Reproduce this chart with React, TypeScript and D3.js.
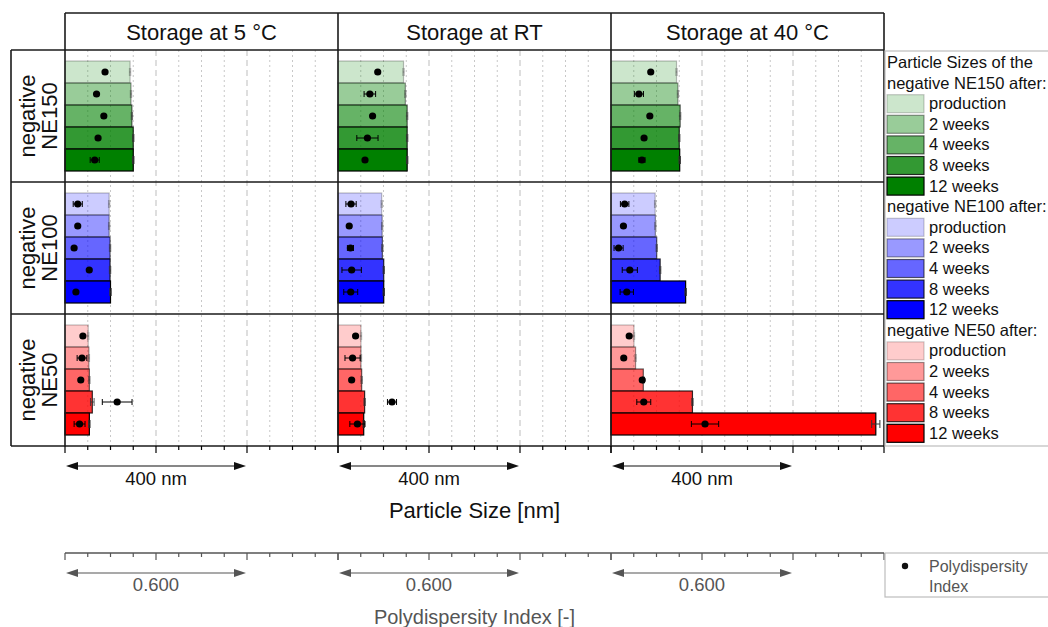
import React from "react";
import * as d3 from "d3";

// ---------- data ----------
const columnTitles = ["Storage at 5 °C", "Storage at RT", "Storage at 40 °C"];
const rowLabels = [["negative", "NE150"], ["negative", "NE100"], ["negative", "NE50"]];
const timepoints = ["production", "2 weeks", "4 weeks", "8 weeks", "12 weeks"];
const legendHeaders = [["Particle Sizes of the", "negative NE150 after:"], ["negative NE100 after:"], ["negative NE50 after:"]];
const baseColors = ["#008000", "#0000ff", "#ff0000"];
const alphaLevels = [0.2, 0.4, 0.6, 0.8, 1.0];

// particle size [nm], per storage condition (5 °C, RT, 40 °C), per timepoint
const sizeNE150 = [[143, 145, 147, 150, 150], [144, 148, 152, 152, 152], [144, 147, 152, 150, 151]];
const sizeErrNE150 = [[1.5, 1.5, 1.5, 1.5, 1.5], [1.5, 1.5, 1.5, 1.5, 1.5], [1.5, 1.5, 1.5, 1.5, 1.5]];
const sizeNE100 = [[97, 97, 99, 99, 100], [96, 97, 97.5, 100.5, 100.5], [97, 97.5, 100.5, 108, 164]];
const sizeErrNE100 = [[1.5, 1.5, 1.5, 1.5, 1.5], [1.5, 1.5, 1.5, 1.5, 1.5], [1.5, 1.5, 1.5, 1.5, 1.5]];
const sizeNE50 = [[51, 52.5, 53.5, 60, 53.5], [50.5, 50.5, 52, 58.5, 56.5], [50.5, 54, 71, 179, 582]];
const sizeErrNE50 = [[1.5, 1.5, 1.5, 4, 1.5], [1.5, 1.5, 1.5, 1.5, 1.5], [1.5, 1.5, 1.5, 1.5, 9]];

// polydispersity index [-]
const pdiNE150 = [[0.132, 0.104, 0.128, 0.109, 0.098], [0.131, 0.105, 0.114, 0.097, 0.089], [0.131, 0.092, 0.128, 0.109, 0.102]];
const pdiErrNE150 = [[0.004, 0.003, 0.005, 0.004, 0.015], [0.004, 0.019, 0.004, 0.035, 0.004], [0.004, 0.015, 0.004, 0.004, 0.01]];
const pdiNE100 = [[0.042, 0.042, 0.030, 0.080, 0.036], [0.043, 0.037, 0.041, 0.045, 0.042], [0.045, 0.041, 0.025, 0.062, 0.052]];
const pdiErrNE100 = [[0.015, 0.003, 0.003, 0.003, 0.004], [0.017, 0.003, 0.01, 0.032, 0.023], [0.014, 0.003, 0.015, 0.025, 0.022]];
const pdiNE50 = [[0.059, 0.056, 0.052, 0.172, 0.048], [0.058, 0.048, 0.045, 0.178, 0.064], [0.060, 0.042, 0.103, 0.108, 0.310]];
const pdiErrNE50 = [[0.004, 0.016, 0.004, 0.049, 0.018], [0.004, 0.025, 0.004, 0.015, 0.025], [0.004, 0.004, 0.006, 0.023, 0.045]];

const sizeDomain = [0, 600];
const pdiDomain = [0, 0.9];
const sizeScaleLabel = "400 nm";
const pdiScaleLabel = "0.600";
const sizeTitle = "Particle Size [nm]";
const pdiTitle = "Polydispersity Index [-]";
const pdiLegend = ["Polydispersity", "Index"];

const sizes = [sizeNE150, sizeNE100, sizeNE50];
const sizeErrs = [sizeErrNE150, sizeErrNE100, sizeErrNE50];
const pdis = [pdiNE150, pdiNE100, pdiNE50];
const pdiErrs = [pdiErrNE150, pdiErrNE100, pdiErrNE50];

// ---------- layout ----------
const W = 1048, H = 627;
const FONT = "'Liberation Sans', Arial, Helvetica, sans-serif";
const colLeft0 = 65, colW = 273;
const headerTop = 13, rowTop0 = 50, rowH = 132;
const labelLeft = 11;
const frame = "#1a1a1a";
const gray = "#555";

function Arrow({ x0, x1, y, color }: { x0: number; x1: number; y: number; color: string }) {
  const L = 12, hw = 4;
  return (
    <g>
      <line x1={x0 + L - 1} x2={x1 - L + 1} y1={y} y2={y} stroke={color} strokeWidth={1.2} />
      <path d={`M${x0},${y}L${x0 + L},${y - hw}L${x0 + L},${y + hw}Z`} fill={color} />
      <path d={`M${x1},${y}L${x1 - L},${y - hw}L${x1 - L},${y + hw}Z`} fill={color} />
    </g>
  );
}

export default function App() {
  const colX = columnTitles.map((_, i) => colLeft0 + i * colW);
  const right = colLeft0 + columnTitles.length * colW;
  const bottom = rowTop0 + rowLabels.length * rowH;

  const xs = colX.map((x) => d3.scaleLinear().domain(sizeDomain).range([x, x + colW]));
  const xp = colX.map((x) => d3.scaleLinear().domain(pdiDomain).range([x, x + colW]));
  const ys = rowLabels.map((_, r) =>
    d3.scaleBand().domain(timepoints).range([rowTop0 + r * rowH, rowTop0 + (r + 1) * rowH]).paddingInner(0).paddingOuter(0.5)
  );

  const minorTicks = d3.range(sizeDomain[0], sizeDomain[1] + 1, 50);
  const pdiMinor = d3.range(0, 12 + 1).map((i) => (i * pdiDomain[1]) / 12);

  const legendY = (i: number) => 62.5 + i * 20.6;
  const legendItems: { kind: string; text: string; color?: string; alpha?: number }[] = [];
  legendHeaders.forEach((hdr, s) => {
    hdr.forEach((t) => legendItems.push({ kind: "text", text: t }));
    timepoints.forEach((t, k) => legendItems.push({ kind: "swatch", text: t, color: baseColors[s], alpha: alphaLevels[k] }));
  });

  return (
    <svg width={W} height={H} style={{ position: "absolute", left: 0, top: 0, background: "#fff" }} fontFamily={FONT}>
      <rect x={0} y={0} width={W} height={H} fill="#fff" />
      {/* gridlines */}
      {colX.map((_, c) =>
        minorTicks
          .filter((t) => t > 0 && t < sizeDomain[1])
          .map((t) => {
            const major = t % 200 === 0;
            return (
              <line
                key={`g${c}-${t}`}
                x1={xs[c](t)}
                x2={xs[c](t)}
                y1={rowTop0}
                y2={bottom}
                stroke={major ? "#bdbdbd" : "#c8c8c8"}
                strokeWidth={1}
                strokeDasharray={major ? "6,4" : "2,3"}
              />
            );
          })
      )}

      {/* bars, error bars, dots */}
      {rowLabels.map((_, r) =>
        colX.map((_, c) =>
          timepoints.map((tp, k) => {
            const y0 = ys[r](tp)!;
            const bh = ys[r].bandwidth();
            const yc = y0 + bh / 2;
            const v = sizes[r][c][k];
            const e = sizeErrs[r][c][k];
            const a = alphaLevels[k];
            const p = pdis[r][c][k];
            const pe = pdiErrs[r][c][k];
            return (
              <g key={`b${r}-${c}-${k}`}>
                <rect x={xs[c](0)} y={y0} width={xs[c](v) - xs[c](0)} height={bh} fill={baseColors[r]} fillOpacity={a} stroke="#000" strokeOpacity={Math.max(a, 0.25)} strokeWidth={1.2} />
                <g stroke="#333" strokeOpacity={Math.max(a, 0.35)} strokeWidth={1}>
                  <line x1={xs[c](v - e)} x2={xs[c](v + e)} y1={yc} y2={yc} />
                  <line x1={xs[c](v - e)} x2={xs[c](v - e)} y1={yc - 4} y2={yc + 4} />
                  <line x1={xs[c](v + e)} x2={xs[c](v + e)} y1={yc - 4} y2={yc + 4} />
                </g>
                <g stroke="#000" strokeWidth={1}>
                  <line x1={xp[c](p - pe)} x2={xp[c](p + pe)} y1={yc} y2={yc} />
                  <line x1={xp[c](p - pe)} x2={xp[c](p - pe)} y1={yc - 3} y2={yc + 3} />
                  <line x1={xp[c](p + pe)} x2={xp[c](p + pe)} y1={yc - 3} y2={yc + 3} />
                </g>
                <circle cx={xp[c](p)} cy={yc} r={3.6} fill="#000" />
              </g>
            );
          })
        )
      )}

      {/* frame */}
      <g stroke={frame} strokeWidth={1.6} fill="none">
        <line x1={colLeft0} x2={right} y1={headerTop} y2={headerTop} />
        <line x1={labelLeft} x2={right} y1={rowTop0} y2={rowTop0} />
        {rowLabels.map((_, r) => (
          <line key={`h${r}`} x1={labelLeft} x2={right} y1={rowTop0 + (r + 1) * rowH} y2={rowTop0 + (r + 1) * rowH} />
        ))}
        <line x1={labelLeft} x2={labelLeft} y1={rowTop0} y2={bottom} />
        {[...colX, right].map((x, i) => (
          <line key={`v${i}`} x1={x} x2={x} y1={headerTop} y2={bottom} />
        ))}
      </g>

      {/* column titles */}
      {columnTitles.map((t, c) => (
        <text key={`ct${c}`} x={colX[c] + colW / 2} y={39.5} textAnchor="middle" fontSize={22} fill="#111">
          {t}
        </text>
      ))}

      {/* row labels */}
      {rowLabels.map((lines, r) => {
        const cy = rowTop0 + r * rowH + rowH / 2;
        return (
          <g key={`rl${r}`} transform={`translate(${(labelLeft + colLeft0) / 2},${cy}) rotate(-90)`}>
            <text x={0} y={-3} textAnchor="middle" fontSize={22} fill="#111">{lines[0]}</text>
            <text x={0} y={18.5} textAnchor="middle" fontSize={22} fill="#111">{lines[1]}</text>
          </g>
        );
      })}

      {/* size axis ticks */}
      {colX.map((_, c) =>
        minorTicks.map((t) => {
          const major = t % 200 === 0;
          return (
            <line key={`st${c}-${t}`} x1={xs[c](t)} x2={xs[c](t)} y1={bottom} y2={bottom + (major ? 7 : 4)} stroke="#000" strokeWidth={1.2} />
          );
        })
      )}
      {colX.map((_, c) => (
        <g key={`sa${c}`}>
          <Arrow x0={xs[c](0) + 1} x1={xs[c](400) - 1} y={466} color="#111" />
          <text x={xs[c](200)} y={484.5} textAnchor="middle" fontSize={18.5} fill="#111">{sizeScaleLabel}</text>
        </g>
      ))}
      <text x={(colLeft0 + right) / 2} y={518} textAnchor="middle" fontSize={22} fill="#111">{sizeTitle}</text>

      {/* PDI axis */}
      <line x1={colLeft0} x2={right} y1={553} y2={553} stroke={gray} strokeWidth={1.5} />
      {colX.map((_, c) =>
        pdiMinor.map((t, i) => (
          <line key={`pt${c}-${i}`} x1={xp[c](t)} x2={xp[c](t)} y1={553} y2={553 + (i % 4 === 0 ? 7 : 4)} stroke={gray} strokeWidth={1.2} />
        ))
      )}
      {colX.map((_, c) => (
        <g key={`pa${c}`}>
          <Arrow x0={xp[c](0) + 1} x1={xp[c](0.6) - 1} y={573} color={gray} />
          <text x={xp[c](0.3)} y={591} textAnchor="middle" fontSize={18.5} fill={gray}>{pdiScaleLabel}</text>
        </g>
      ))}
      <text x={(colLeft0 + right) / 2} y={624} textAnchor="middle" fontSize={20} fill={gray}>{pdiTitle}</text>

      {/* main legend */}
      <rect x={885} y={51} width={180} height={bottom - 51} fill="#fff" stroke="#bdbdbd" strokeWidth={1.2} />
      {legendItems.map((it, i) => {
        const cy = legendY(i);
        if (it.kind === "text") {
          return (
            <text key={`lg${i}`} x={887} y={cy + 5.5} fontSize={16.5} fill="#111">{it.text}</text>
          );
        }
        return (
          <g key={`lg${i}`}>
            <rect x={887} y={cy - 9} width={37} height={18} fill={it.color} fillOpacity={it.alpha} stroke="#000" strokeOpacity={Math.max(it.alpha!, 0.2)} strokeWidth={1.2} />
            <text x={929} y={cy + 5.5} fontSize={16.5} fill="#111">{it.text}</text>
          </g>
        );
      })}

      {/* PDI legend */}
      <rect x={885} y={553} width={180} height={44} fill="#fff" stroke="#bdbdbd" strokeWidth={1.2} />
      <circle cx={905} cy={566} r={3.2} fill="#111" />
      <text x={929} y={572} fontSize={16} fill={gray}>{pdiLegend[0]}</text>
      <text x={929} y={592} fontSize={16} fill={gray}>{pdiLegend[1]}</text>
    </svg>
  );
}
